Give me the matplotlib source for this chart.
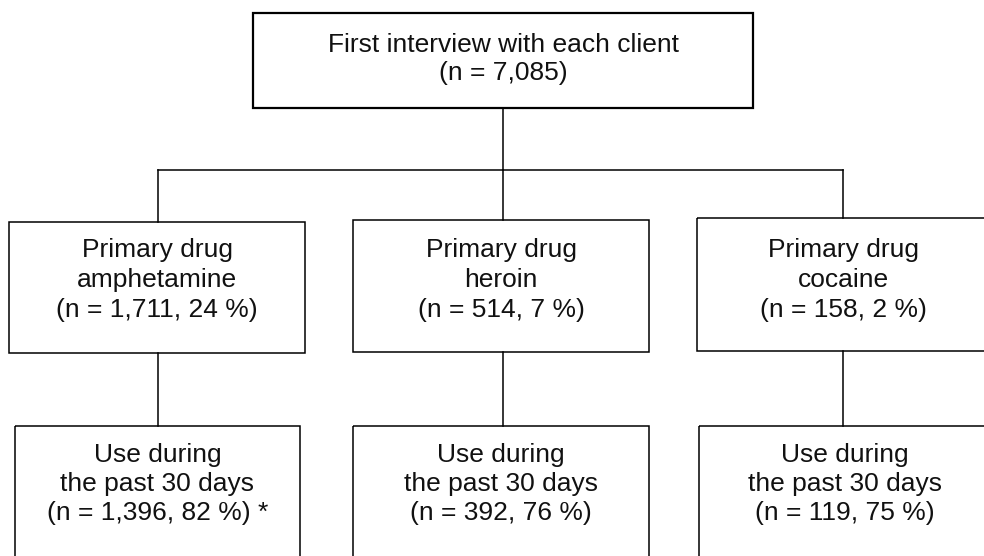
import matplotlib
matplotlib.use("Agg")
import matplotlib.pyplot as plt
from matplotlib.patches import Rectangle

plt.rcParams['font.family'] = ['Liberation Sans', 'DejaVu Sans']

# data
total_n = "7,085"
drugs = ["amphetamine", "heroin", "cocaine"]
drug_n = ["1,711", "514", "158"]
drug_pct = [24, 7, 2]
recent_n = ["1,396", "392", "119"]
recent_pct = [82, 76, 75]
recent_note = [" *", "", ""]

# layout (pixels, y down)
top_box = (253, 13, 753, 108)
mid_boxes = [(9, 222, 305, 353), (353, 220, 649, 352), (697, 218, 990, 351)]
bot_boxes = [(15, 426, 300, 580), (353, 426, 649, 580), (699, 426, 990, 580)]
cols = [158, 503, 843]
bus_y = 170

fig = plt.figure(figsize=(9.84, 5.56), dpi=100)
ax = fig.add_axes([0, 0, 1, 1])
ax.set_xlim(0, 984)
ax.set_ylim(556, 0)
ax.axis('off')


def box(b, lw):
    x0, y0, x1, y1 = b
    ax.add_patch(Rectangle((x0, y0), x1 - x0, y1 - y0, fill=False,
                           edgecolor='black', linewidth=lw))


def label(x, y, s, ls):
    ax.text(x, y, s, ha='center', va='center', fontsize=19,
            linespacing=ls, color='#111111')


box(top_box, 1.6)
label((top_box[0] + top_box[2]) / 2, 59,
      "First interview with each client\n(n = %s)" % total_n, 1.18)

# connectors
ax.plot([503, 503], [top_box[3], bus_y], color='black', lw=1.1)
ax.plot([cols[0], cols[2]], [bus_y, bus_y], color='black', lw=1.1)

for i in range(3):
    mb = mid_boxes[i]
    bb = bot_boxes[i]
    ax.plot([cols[i], cols[i]], [bus_y, mb[1]], color='black', lw=1.1)
    ax.plot([cols[i], cols[i]], [mb[3], bb[1]], color='black', lw=1.1)
    box(mb, 1.1)
    box(bb, 1.1)
    cx = (mb[0] + mb[2]) / 2
    label(cx, 280, "Primary drug\n%s\n(n = %s, %d %%)"
          % (drugs[i], drug_n[i], drug_pct[i]), 1.32)
    cx = (bb[0] + bb[2]) / 2
    label(cx, 484, "Use during\nthe past 30 days\n(n = %s, %d %%)%s"
          % (recent_n[i], recent_pct[i], recent_note[i]), 1.25)

fig.savefig("out.png", dpi=100)
